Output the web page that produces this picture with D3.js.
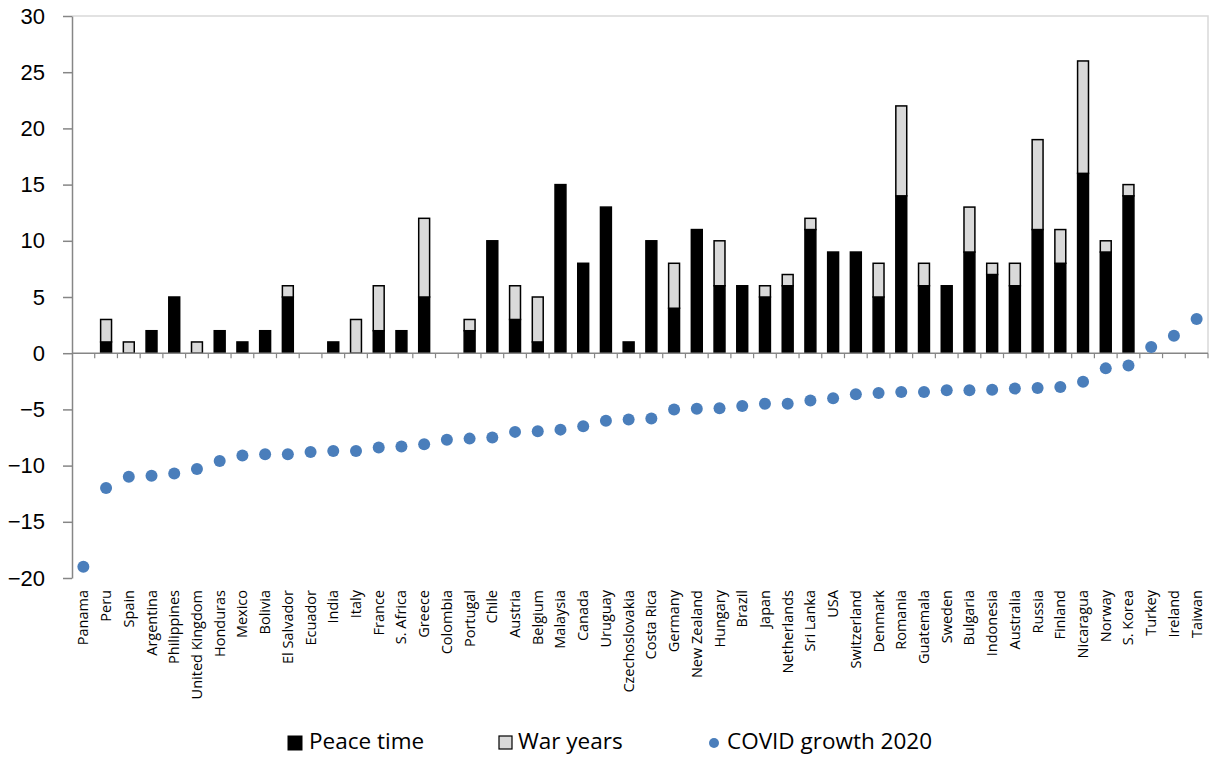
<!DOCTYPE html>
<html>
<head>
<meta charset="utf-8">
<script src="https://cdn.jsdelivr.net/npm/d3@7"></script>
<style>
  body { margin: 0; background: #fff; }
  svg { display: block; font-family: "Open Sans", sans-serif; }
</style>
</head>
<body>
<div id="chart"></div>
<script>
// Peace time / war years bars with COVID growth 2020 dots

const countries = ["Panama", "Peru", "Spain", "Argentina", "Philippines", "United Kingdom", "Honduras",
  "Mexico", "Bolivia", "El Salvador", "Ecuador", "India", "Italy", "France", "S. Africa", "Greece",
  "Colombia", "Portugal", "Chile", "Austria", "Belgium", "Malaysia", "Canada", "Uruguay",
  "Czechoslovakia", "Costa Rica", "Germany", "New Zealand", "Hungary", "Brazil", "Japan",
  "Netherlands", "Sri Lanka", "USA", "Switzerland", "Denmark", "Romania", "Guatemala", "Sweden",
  "Bulgaria", "Indonesia", "Australia", "Russia", "Finland", "Nicaragua", "Norway", "S. Korea",
  "Turkey", "Ireland", "Taiwan"];

const peaceTime = [0, 1, 0, 2, 5, 0, 2, 1, 2, 5, 0, 1, 0, 2, 2, 5, 0, 2, 10, 3, 1, 15, 8, 13,
  1, 10, 4, 11, 6, 6, 5, 6, 11, 9, 9, 5, 14, 6, 6, 9, 7, 6, 11, 8, 16, 9, 14, 0, 0, 0];

const warYears = [0, 2, 1, 0, 0, 1, 0, 0, 0, 1, 0, 0, 3, 4, 0, 7, 0, 1, 0, 3, 4, 0, 0, 0,
  0, 0, 4, 0, 4, 0, 1, 1, 1, 0, 0, 3, 8, 2, 0, 4, 1, 2, 8, 3, 10, 1, 1, 0, 0, 0];

const covidGrowth = [-19.0, -12.0, -11.0, -10.9, -10.7, -10.3, -9.6, -9.1, -9.0, -9.0, -8.8, -8.7,
  -8.7, -8.4, -8.3, -8.1, -7.7, -7.6, -7.5, -7.0, -6.95, -6.8, -6.5, -6.0, -5.9, -5.8, -5.0,
  -4.95, -4.9, -4.7, -4.5, -4.5, -4.2, -4.0, -3.65, -3.55, -3.45, -3.45, -3.3, -3.3, -3.25,
  -3.15, -3.1, -3.0, -2.55, -1.35, -1.1, 0.55, 1.55, 3.05];

const yTicks = [-20, -15, -10, -5, 0, 5, 10, 15, 20, 25, 30];

const W = 1209, H = 757;
const plot = { left: 72, right: 1208, top: 16, bottom: 578 };

const svg = d3.select("#chart").append("svg")
  .attr("width", W)
  .attr("height", H);

const x = d3.scaleBand().domain(countries).range([plot.left, plot.right]).paddingInner(0.52).paddingOuter(0.26);
const xb = d3.scaleBand().domain(countries).range([plot.left, plot.right]);
const y = d3.scaleLinear().domain([-20, 30]).range([plot.bottom, plot.top]);

// plot area border (light)
svg.append("path")
  .attr("d", `M${plot.left},${plot.top}H${plot.right}V${y(0)}`)
  .attr("fill", "none")
  .attr("stroke", "#d9d9d9")
  .attr("stroke-width", 1.5);

// stacked bars
const rows = countries.map((c, i) => ({ c, peace: peaceTime[i], war: warYears[i] }));

svg.append("g").selectAll("rect.peace")
  .data(rows.filter(d => d.peace > 0))
  .join("rect")
  .attr("class", "peace")
  .attr("x", d => x(d.c))
  .attr("width", x.bandwidth())
  .attr("y", d => y(d.peace))
  .attr("height", d => y(0) - y(d.peace))
  .attr("fill", "#000")
  .attr("stroke", "#000")
  .attr("stroke-width", 1.5);

svg.append("g").selectAll("rect.war")
  .data(rows.filter(d => d.war > 0))
  .join("rect")
  .attr("class", "war")
  .attr("x", d => x(d.c))
  .attr("width", x.bandwidth())
  .attr("y", d => y(d.peace + d.war))
  .attr("height", d => y(d.peace) - y(d.peace + d.war))
  .attr("fill", "#d9d9d9")
  .attr("stroke", "#000")
  .attr("stroke-width", 1.5);

// y axis
const yAxisG = svg.append("g")
  .attr("transform", `translate(${plot.left},0)`)
  .call(d3.axisLeft(y).tickValues(yTicks).tickSize(9).tickPadding(18).tickSizeOuter(0));
yAxisG.select(".domain").attr("stroke", "#868686").attr("stroke-width", 1.5);
yAxisG.selectAll(".tick line").attr("stroke", "#868686").attr("stroke-width", 1.5);
yAxisG.selectAll(".tick text")
  .attr("fill", "#000")
  .style("font-size", "22px");

// category axis at zero with ticks between categories
const zeroY = y(0);
svg.append("line")
  .attr("x1", plot.left).attr("x2", plot.right)
  .attr("y1", zeroY).attr("y2", zeroY)
  .attr("stroke", "#868686")
  .attr("stroke-width", 1.5);

svg.append("g").selectAll("line")
  .data(countries)
  .join("line")
  .attr("x1", d => xb(d) + xb.bandwidth())
  .attr("x2", d => xb(d) + xb.bandwidth())
  .attr("y1", zeroY)
  .attr("y2", zeroY + 5)
  .attr("stroke", "#868686")
  .attr("stroke-width", 1.2);

// category labels at bottom, rotated
svg.append("g").selectAll("text")
  .data(countries)
  .join("text")
  .attr("transform", d => `translate(${xb(d) + xb.bandwidth() / 2 + 5},590) rotate(-90)`)
  .attr("text-anchor", "end")
  .style("font-size", "14.5px")
  .attr("fill", "#000")
  .text(d => d);

// COVID dots
svg.append("g").selectAll("circle")
  .data(countries.map((c, i) => ({ c, v: covidGrowth[i] })))
  .join("circle")
  .attr("cx", d => xb(d.c) + xb.bandwidth() / 2)
  .attr("cy", d => y(d.v))
  .attr("r", 6)
  .attr("fill", "#4a7ebb");

// legend
const legend = svg.append("g").attr("transform", "translate(0,749)");
legend.append("rect").attr("x", 288).attr("y", -13).attr("width", 14).attr("height", 14)
  .attr("fill", "#000").attr("stroke", "#000");
legend.append("text").attr("x", 309).attr("y", 0).style("font-size", "22.5px").text("Peace time");
legend.append("rect").attr("x", 499).attr("y", -13).attr("width", 13).attr("height", 13)
  .attr("fill", "#d9d9d9").attr("stroke", "#000").attr("stroke-width", 1.2);
legend.append("text").attr("x", 518).attr("y", 0).style("font-size", "22.5px").text("War years");
legend.append("circle").attr("cx", 714).attr("cy", -6).attr("r", 5).attr("fill", "#4a7ebb");
legend.append("text").attr("x", 727).attr("y", 0).style("font-size", "22.5px").text("COVID growth 2020");
</script>
</body>
</html>
